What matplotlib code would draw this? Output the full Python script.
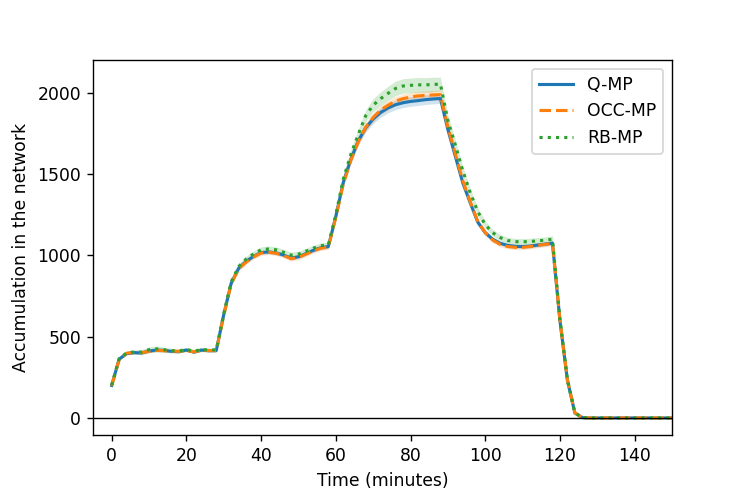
import matplotlib
matplotlib.use('Agg')
import matplotlib.pyplot as plt
import numpy as np

# time axis (minutes), one sample every 2 minutes
time = list(range(0, 152, 2))

q_mp = [200, 362, 396, 402, 400, 412, 418, 416, 410, 408,
        418, 405, 418, 414, 415, 636, 830, 922, 964, 995,
        1018, 1022, 1016, 1003, 984, 992, 1012, 1032, 1048, 1055,
        1240, 1450, 1590, 1705, 1785, 1840, 1880, 1908, 1928, 1940,
        1948, 1953, 1959, 1963, 1966, 1775, 1610, 1446, 1323, 1205,
        1140, 1100, 1075, 1062, 1056, 1055, 1058, 1064, 1070, 1076,
        600, 232, 30, 2, 0, 0, 0, 0, 0, 0,
        0, 0, 0, 0, 0, 0]
occ_mp = [198, 360, 398, 403, 402, 410, 416, 414, 412, 410,
          415, 407, 416, 415, 414, 632, 826, 918, 960, 992,
          1015, 1020, 1014, 1000, 980, 988, 1008, 1028, 1045, 1052,
          1235, 1440, 1585, 1700, 1790, 1850, 1895, 1925, 1950, 1965,
          1975, 1982, 1985, 1988, 1990, 1790, 1625, 1460, 1330, 1210,
          1140, 1095, 1068, 1055, 1050, 1050, 1055, 1062, 1068, 1075,
          602, 234, 31, 2, 0, 0, 0, 0, 0, 0,
          0, 0, 0, 0, 0, 0]
rb_mp = [202, 365, 400, 406, 405, 420, 425, 420, 414, 412,
         422, 410, 421, 418, 419, 640, 838, 932, 978, 1010,
         1035, 1040, 1035, 1020, 1002, 1008, 1026, 1045, 1060, 1065,
         1250, 1470, 1620, 1745, 1860, 1925, 1965, 1998, 2028, 2043,
         2047, 2050, 2050, 2052, 2055, 1830, 1680, 1520, 1385, 1270,
         1190, 1140, 1110, 1092, 1085, 1084, 1086, 1090, 1094, 1100,
         606, 236, 32, 2, 0, 0, 0, 0, 0, 0,
         0, 0, 0, 0, 0, 0]

# spread of the runs around each mean
q_err = [6, 8, 8, 8, 8, 9, 9, 9, 8, 8,
         8, 8, 8, 8, 8, 12, 12, 12, 12, 12,
         12, 12, 12, 12, 12, 12, 12, 12, 12, 12,
         18, 20, 22, 24, 26, 28, 30, 30, 30, 30,
         30, 30, 30, 30, 30, 25, 22, 20, 20, 18,
         16, 14, 12, 12, 12, 12, 12, 12, 12, 12,
         10, 8, 5, 1, 0, 0, 0, 0, 0, 0,
         0, 0, 0, 0, 0, 0]
occ_err = [6, 8, 8, 8, 8, 9, 9, 9, 8, 8,
           8, 8, 8, 8, 8, 12, 14, 14, 14, 14,
           14, 14, 14, 14, 14, 14, 14, 14, 14, 14,
           18, 20, 22, 24, 26, 28, 28, 28, 28, 28,
           28, 28, 28, 28, 28, 25, 22, 20, 20, 20,
           18, 16, 15, 14, 14, 14, 14, 14, 14, 14,
           10, 8, 5, 1, 0, 0, 0, 0, 0, 0,
           0, 0, 0, 0, 0, 0]
rb_err = [8, 10, 12, 14, 16, 18, 18, 16, 14, 12,
          12, 12, 12, 12, 12, 15, 18, 18, 18, 18,
          18, 18, 18, 18, 18, 18, 18, 18, 18, 18,
          25, 28, 30, 32, 36, 40, 42, 44, 45, 45,
          45, 45, 45, 45, 43, 35, 30, 28, 26, 24,
          22, 20, 20, 20, 20, 20, 20, 20, 20, 22,
          12, 8, 5, 1, 0, 0, 0, 0, 0, 0,
          0, 0, 0, 0, 0, 0]

series = [('Q-MP', q_mp, q_err, '#1f77b4', '-'),
          ('OCC-MP', occ_mp, occ_err, '#ff7f0e', '--'),
          ('RB-MP', rb_mp, rb_err, '#2ca02c', ':')]

fig, ax = plt.subplots(figsize=(6, 4), dpi=124.5)
fig.subplots_adjust(left=0.1245, right=0.8996, top=0.8795, bottom=0.1265)

t = np.array(time)
for name, mean, err, color, ls in series:
    mean = np.array(mean, dtype=float)
    err = np.array(err, dtype=float)
    ax.fill_between(t, mean - err, mean + err, color=color, alpha=0.2, linewidth=0)
    ax.plot(t, mean, color=color, linestyle=ls, linewidth=1.8, label=name)

ax.axhline(0, color='black', linewidth=0.8)

ax.set_xlim(-5, 150)
ax.set_ylim(-105, 2203)
ax.set_xlabel('Time (minutes)')
ax.set_ylabel('Accumulation in the network')
ax.legend(loc='upper right')

plt.savefig('out.png')
